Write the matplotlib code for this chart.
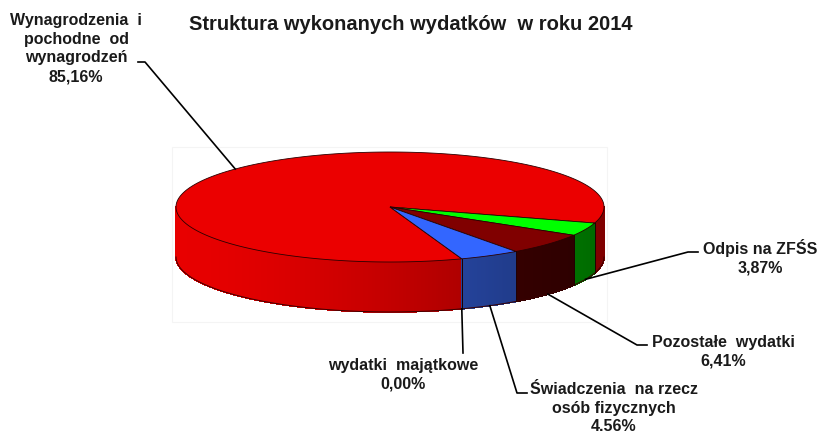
import numpy as np
import matplotlib.pyplot as plt
from matplotlib.patches import Polygon, Rectangle
from matplotlib.collections import PolyCollection

plt.rcParams['font.family'] = ['Liberation Sans', 'DejaVu Sans']

TITLE = 'Struktura wykonanych wydatków  w roku 2014'

# data, in the order the slices go round (clockwise)
categories = ['Wynagrodzenia  i\npochodne  od\nwynagrodzeń', 'Odpis na ZFŚS', 'Pozostałe  wydatki',
              'Świadczenia  na rzecz\nosób fizycznych', 'wydatki  majątkowe']
values = [85.16, 3.87, 6.41, 4.56, 0.00]
pct_labels = ['85,16%', '3,87%', '6,41%', '4.56%', '0,00%']

top_colors = [(235, 0, 0), (0, 255, 0), (128, 0, 0), (51, 102, 255), (51, 102, 255)]
side_colors = [(232, 0, 0), (0, 190, 0), (77, 0, 0), (48, 88, 204), (48, 88, 204)]

# where the labels sit (pixels) and the elbow of their leader lines
label_pos = [(76, 48.5), (760, 257.5), (723, 351.5), (614, 408), (403, 375)]
elbows = [[(145, 62), (138, 62)], [(688, 252), (698, 252)], [(637, 345), (647, 345)],
          [(517, 393), (527, 393)], [(463, 353)]]

# pie geometry in pixels
cx, cy, rx, ry, depth = 390, 207, 214, 55, 50
start_angle = -70.4


def pt(theta, drop=0.0):
    t = np.radians(theta)
    return cx + rx * np.cos(t), cy - ry * np.sin(t) + drop


def shade(rgb, x):
    t = (x - (cx - rx)) / (2 * rx)
    g = 1 - 0.45 * np.clip(t, 0, 1) ** 1.5
    return tuple(min(1, c * g / 255) for c in rgb)


fig = plt.figure(figsize=(8.21, 4.34), dpi=100)
ax = fig.add_axes([0, 0, 1, 1])
ax.set_xlim(0, 821)
ax.set_ylim(434, 0)
ax.axis('off')

ax.add_patch(Rectangle((172, 147), 435, 175, fill=False, ec='#f4f4f4', lw=0.8))

# slice angles
bounds = [start_angle]
for v in values:
    bounds.append(bounds[-1] - v / 100 * 360)

# side of the cylinder, drawn in thin strips for the gradient
for i in range(len(values)):
    a0, a1 = bounds[i + 1], bounds[i]
    if a1 - a0 <= 0:
        continue
    n = max(2, int((a1 - a0) / 0.25))
    th = np.linspace(a0, a1, n + 1)
    polys, cols = [], []
    for t1, t2 in zip(th[:-1], th[1:]):
        if np.sin(np.radians((t1 + t2) / 2)) >= 0:
            continue
        x1, y1 = pt(t1)
        x2, y2 = pt(t2)
        polys.append([(x1, y1), (x2, y2), (x2, y2 + depth), (x1, y1 + depth)])
        cols.append(shade(side_colors[i], (x1 + x2) / 2))
    if polys:
        ax.add_collection(PolyCollection(polys, facecolors=cols, edgecolors=cols,
                                         linewidths=0.6, antialiased=False))

# outline of the side
th = np.linspace(-180, 0, 200)
bx, by = pt(th, depth)
ax.plot(bx, by, color='#3a0000', lw=0.7)
for b in bounds:
    if np.sin(np.radians(b)) < 0:
        x, y = pt(b)
        ax.plot([x, x], [y, y + depth], color='#200000', lw=0.7)

# top face
for i in range(len(values)):
    a0, a1 = bounds[i + 1], bounds[i]
    if a1 - a0 <= 0:
        continue
    th = np.linspace(a0, a1, max(3, int((a1 - a0) * 2)))
    xs, ys = pt(th)
    verts = [(cx, cy)] + list(zip(xs, ys))
    ax.add_patch(Polygon(verts, closed=True, fc=tuple(c / 255 for c in top_colors[i]),
                         ec='#2a0000', lw=0.6))

# labels and leader lines
for i in range(len(values)):
    mid = (bounds[i] + bounds[i + 1]) / 2
    if i == 0:
        ax_, ay_ = pt(mid)
    else:
        ax_, ay_ = pt(mid, depth)
    xs = [ax_] + [p[0] for p in elbows[i]]
    ys = [ay_] + [p[1] for p in elbows[i]]
    ax.plot(xs, ys, color='black', lw=1.2)
    ax.text(label_pos[i][0], label_pos[i][1], categories[i] + '\n' + pct_labels[i],
            ha='center', va='center', multialignment='center', fontsize=11.5,
            fontweight='bold', color='#1a1a1a', linespacing=1.33)

ax.text(411, 25, TITLE, ha='center', va='center', fontsize=14.5, fontweight='bold', color='#1a1a1a')

fig.savefig('out.png', dpi=100)
